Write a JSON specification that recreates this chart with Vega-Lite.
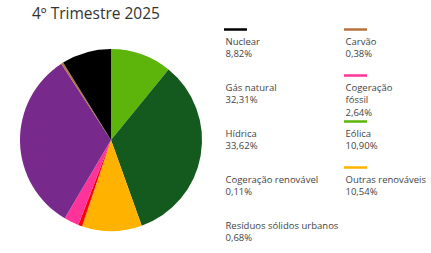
{
  "$schema": "https://vega.github.io/schema/vega-lite/v6.json",
  "width": 222,
  "height": 222,
  "autosize": {"type": "none"},
  "padding": {"left": 0, "top": 29, "right": 209, "bottom": 2},
  "background": "#ffffff",
  "config": {"view": {"stroke": null}, "font": "Open Sans"},
  "title": {
    "text": "4º Trimestre 2025",
    "anchor": "start",
    "frame": "group",
    "dx": 32,
    "offset": -9,
    "font": "Open Sans",
    "fontSize": 15.5,
    "fontWeight": 400,
    "color": "#333333",
    "baseline": "alphabetic"
  },
  "data": {
    "values": [
      {"fonte": "Eólica", "legenda": "Eólica|10,90%", "pct": 10.90, "ordem": 1},
      {"fonte": "Hídrica", "legenda": "Hídrica|33,62%", "pct": 33.62, "ordem": 2},
      {"fonte": "Outras renováveis", "legenda": "Outras renováveis|10,54%", "pct": 10.54, "ordem": 3},
      {"fonte": "Cogeração renovável", "legenda": "Cogeração renovável|0,11%", "pct": 0.11, "ordem": 4},
      {"fonte": "Resíduos sólidos urbanos", "legenda": "Resíduos sólidos urbanos|0,68%", "pct": 0.68, "ordem": 5},
      {"fonte": "Cogeração fóssil", "legenda": "Cogeração|fóssil|2,64%", "pct": 2.64, "ordem": 6},
      {"fonte": "Gás natural", "legenda": "Gás natural|32,31%", "pct": 32.31, "ordem": 7},
      {"fonte": "Carvão", "legenda": "Carvão|0,38%", "pct": 0.38, "ordem": 8},
      {"fonte": "Nuclear", "legenda": "Nuclear|8,82%", "pct": 8.82, "ordem": 9}
    ]
  },
  "mark": {"type": "arc", "outerRadius": 91},
  "encoding": {
    "theta": {"field": "pct", "type": "quantitative", "stack": true},
    "order": {"field": "ordem", "type": "quantitative"},
    "color": {
      "field": "legenda",
      "type": "nominal",
      "scale": {
        "domain": ["Nuclear|8,82%", "Carvão|0,38%", "Gás natural|32,31%", "Cogeração|fóssil|2,64%", "Hídrica|33,62%", "Eólica|10,90%", "Cogeração renovável|0,11%", "Outras renováveis|10,54%", "Resíduos sólidos urbanos|0,68%"],
        "range": ["#000000", "#b8733f", "#772a8b", "#ff3399", "#145a1e", "#5db50c", "#e06000", "#ffb300", "#ff0000"]
      },
      "legend": {
        "orient": "none",
        "direction": "horizontal",
        "legendX": 222.5,
        "legendY": -4,
        "title": null,
        "columns": 2,
        "padding": 0,
        "columnPadding": 0,
        "rowPadding": -1,
        "symbolType": "M -1 -0.7 H 1.3",
        "symbolSize": 400,
        "symbolStrokeWidth": 2.5,
        "symbolFillColor": "transparent",
        "labelExpr": "length(split(datum.label, '|')) < 3 ? split(datum.label + '| ', '|') : split(datum.label, '|')",
        "labelBaseline": "top",
        "labelOffset": -20,
        "labelFont": "Open Sans",
        "labelFontSize": 9.5,
        "labelColor": "#444444",
        "labelLimit": 0,
        "encode": {
          "symbols": {
            "update": {
              "stroke": {"scale": "color", "field": "value"},
              "strokeWidth": {"value": 2.5},
              "strokeOpacity": {"signal": "test(regexp('^(Gás|Hídrica|Cogeração renovável|Resíduos)'), datum.value) ? 0 : 1"}
            }
          },
          "labels": {"update": {"lineHeight": {"value": 12.5}}}
        }
      }
    }
  }
}
